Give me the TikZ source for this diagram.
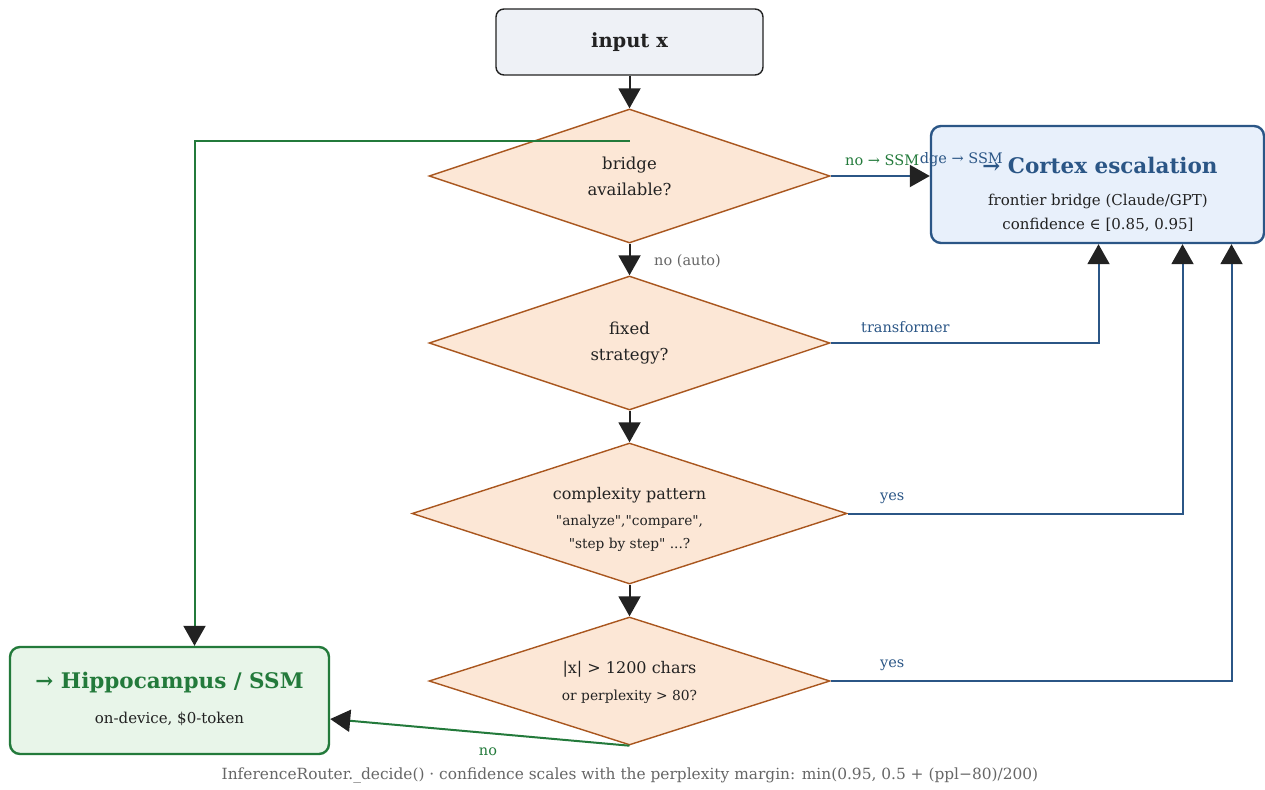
\documentclass[tikz,border=0pt]{standalone}
\usepackage{fontspec}
\setmainfont[Ligatures=TeXOff]{DejaVu Serif}
\usetikzlibrary{shapes.geometric,arrows.meta}

\definecolor{inkc}{HTML}{222222}
\definecolor{inputfill}{HTML}{EEF1F6}
\definecolor{decfill}{HTML}{FCE7D6}
\definecolor{decline}{HTML}{A9561E}
\definecolor{cortexline}{HTML}{2B5686}
\definecolor{cortexfill}{HTML}{E8F0FB}
\definecolor{ssmline}{HTML}{237A3B}
\definecolor{ssmfill}{HTML}{E8F5E9}
\definecolor{notec}{HTML}{666666}

\tikzset{
  decision/.style={diamond, aspect=3, inner sep=0pt, draw=decline, line width=1.4pt,
    fill=decfill, text=inkc, align=center, font=\fontsize{16.5}{26}\selectfont},
  dectext/.style={text=inkc, align=center, inner sep=0pt},
  target/.style={rectangle, rounded corners=10pt, line width=2.4pt, inner sep=0pt, align=center},
  flow/.style={line width=2pt, -{Triangle[length=20pt,width=22pt]}},
  tohead/.style={arrows={-{Triangle[length=20pt,width=22pt,color=inkc]}}},
  lbl/.style={font=\fontsize{14.5}{16}\selectfont, inner sep=0pt},
  sub/.style={font=\fontsize{15}{18}\selectfont},
  ttl/.style={font=\bfseries\fontsize{21.5}{25}\selectfont},
}

\begin{document}
\begin{tikzpicture}[x=1pt,y=-1pt]
\useasboundingbox (0,0) rectangle (1265,789);

% entry point
\node[rectangle, rounded corners=8pt, draw=inkc, line width=1.4pt, fill=inputfill,
  minimum width=267pt, minimum height=66pt, font=\bfseries\fontsize{19.5}{22}\selectfont,
  text=inkc] (in) at (629.5,42) {input x};

% decision chain
\node[decision, minimum width=401pt, minimum height=134pt] (d1) at (629.5,176) {bridge\\available?};
\node[decision, minimum width=401pt, minimum height=134pt] (d2) at (629.5,343) {fixed\\strategy?};
\node[decision, minimum width=435pt, minimum height=141pt] (d3) at (629.5,513.5) {};
\node[dectext, font=\fontsize{13.7}{23}\selectfont] (d3t) at (629.5,519.5)
  {{\fontsize{16}{20}\selectfont complexity pattern}\\[3pt]"analyze","compare",\\"step by step" ...?};
\node[decision, minimum width=401pt, minimum height=128pt] (d4) at (629.5,681) {};
\node[dectext, font=\fontsize{16}{27}\selectfont] (d4t) at (629.5,682.5)
  {|x| > 1200 chars\\{\fontsize{13.8}{27}\selectfont or perplexity > 80?}};

% outcomes
\node[target, draw=cortexline, fill=cortexfill, minimum width=333pt, minimum height=117pt] (cx) at (1097.5,184.5) {};
\node[ttl, text=cortexline] (cxt) at (1100,165) {→ Cortex escalation};
\node[sub, text=inkc] (cxa) at (1098,201) {frontier bridge (Claude/GPT)};
\node[sub, text=inkc] (cxb) at (1098,225) {confidence ∈ [0.85, 0.95]};

\node[target, draw=ssmline, fill=ssmfill, minimum width=319pt, minimum height=107pt] (hp) at (169.5,700.5) {};
\node[ttl, text=ssmline] (hpt) at (169.5,683) {→ Hippocampus / SSM};
\node[sub, text=inkc] (hpa) at (169.5,719) {on-device, \$0-token};

% main spine
\draw[flow, inkc] (in.south) -- (d1.north);
\draw[flow, inkc] (d1.south) -- (d2.north);
\draw[flow, inkc] (d2.south) -- (d3.north);
\draw[flow, inkc] (d3.south) -- (d4.north);

% escalation paths
\draw[flow, cortexline, tohead] (d1.east) -- (d1.east -| cx.west);
\draw[flow, cortexline, tohead] (d2.east) -| ([xshift=1pt]cx.south);
\draw[flow, cortexline, tohead] (d3.east) -| ([xshift=85pt]cx.south);
\draw[flow, cortexline, tohead] (d4.east) -| ([xshift=134pt]cx.south);

% fallbacks to the local model
\coordinate (bypass) at ([yshift=-33pt]d1.north);
\draw[flow, ssmline, tohead] (bypass) -| ([xshift=25pt]hp.north);
\draw[flow, ssmline, tohead] (d4.south) -- ([yshift=-18.5pt]hp.east);

% edge labels
\node[lbl, text=notec, anchor=west] (l1) at (654,261) {no (auto)};
\node[lbl, text=cortexline, anchor=west] (l2) at (861,327) {transformer};
\node[lbl, text=cortexline, anchor=west] (l3) at (880,498) {yes};
\node[lbl, text=cortexline, anchor=west] (l4) at (880,665) {yes};
\node[lbl, text=ssmline] (l5) at (488,752) {no};
\node[lbl, text=ssmline, anchor=west] (l6) at (845,160) {no → SSM};
\node[lbl, text=cortexline, anchor=east] (l7) at (1003,160) {dge → SSM};

% footer
\node[font=\fontsize{15.4}{17}\selectfont, text=notec] (foot) at (630,775)
  {InferenceRouter.\_decide() · confidence scales with the perplexity margin: min(0.95, 0.5 + (ppl−80)/200)};
\end{tikzpicture}
\end{document}
